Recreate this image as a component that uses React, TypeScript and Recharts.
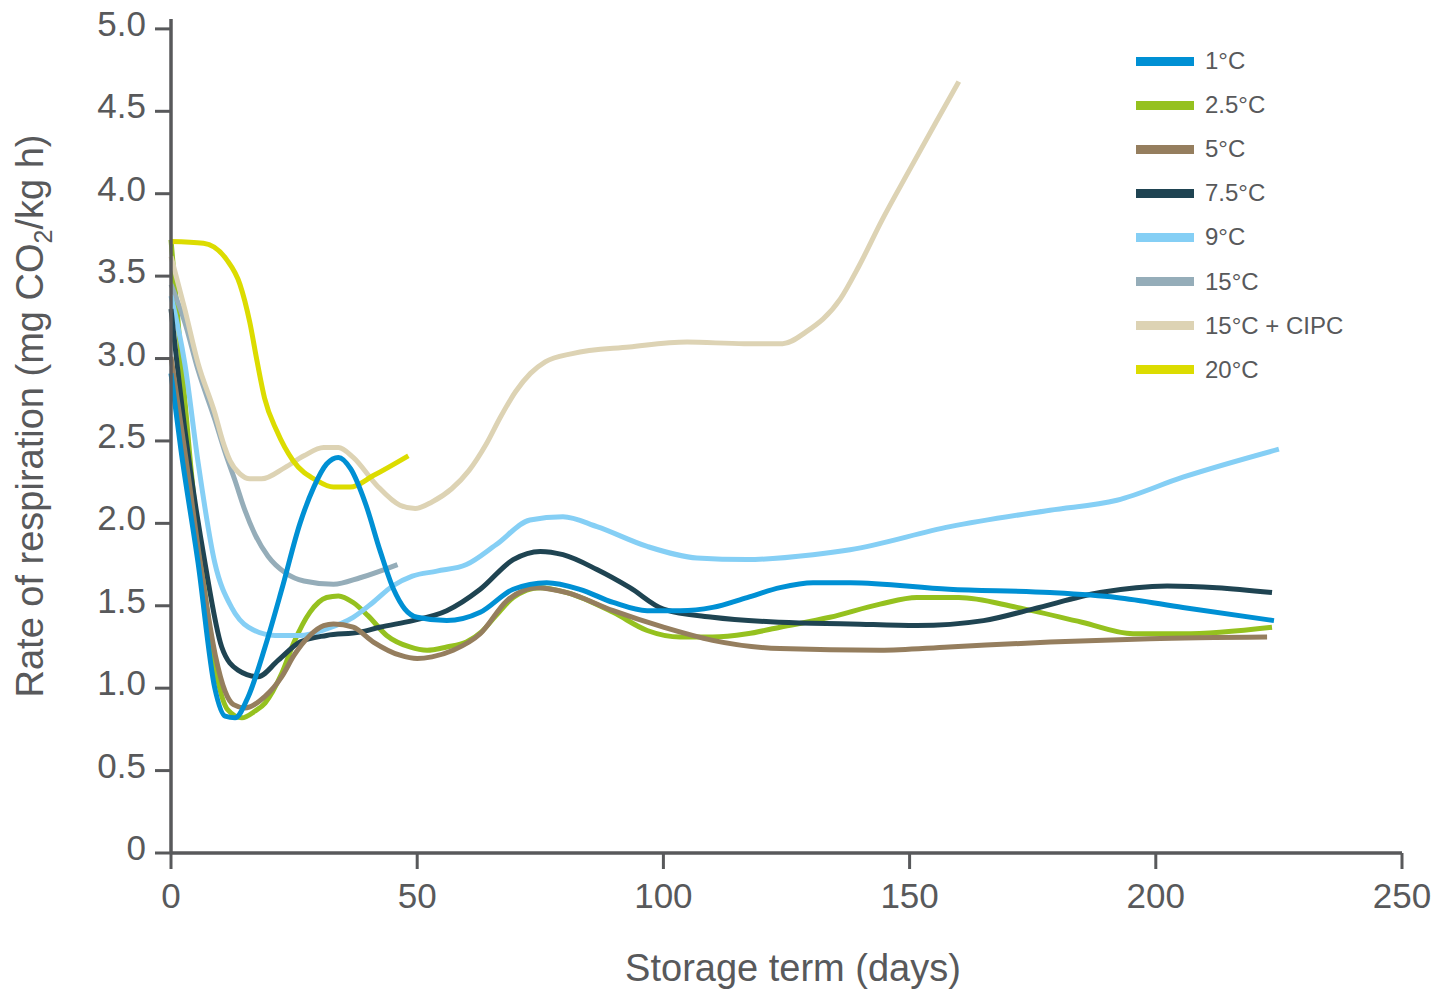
import { LineChart, Line, XAxis, YAxis, Legend } from "recharts"

// storage day / respiration rate (mg CO2/kg h)
const days1 = [0, 2, 5.5, 8.9, 11, 13, 15.7, 19.1, 22.5, 26.2, 29, 31.6, 34, 36.5, 39.5, 42.5, 45.2, 47.5, 50, 56, 62.8, 69.5, 76.3, 83, 89.8, 96.7, 103.4, 110, 117, 123.7, 130.4, 138, 158, 178.5, 192, 205.5, 224]
const rate1 = [2.91, 2.45, 1.76, 1.0, 0.83, 0.82, 0.95, 1.25, 1.6, 2.0, 2.22, 2.36, 2.4, 2.33, 2.12, 1.83, 1.6, 1.48, 1.43, 1.41, 1.46, 1.6, 1.64, 1.6, 1.52, 1.47, 1.47, 1.49, 1.55, 1.61, 1.64, 1.64, 1.6, 1.58, 1.55, 1.49, 1.41]

const days25 = [0, 1.5, 4, 7, 9.5, 11.5, 14.4, 17, 19.1, 22.5, 25, 28.2, 31.6, 34, 37, 40, 43.8, 48.5, 52, 56, 60, 63, 66, 69.5, 75, 80.4, 89.8, 96.7, 103.4, 110, 117, 123.7, 133.8, 144, 151.5, 160, 171.8, 185, 195.4, 205.5, 223.6]
const rate25 = [3.72, 3.2, 2.35, 1.55, 1.05, 0.87, 0.82, 0.86, 0.91, 1.09, 1.28, 1.46, 1.55, 1.56, 1.52, 1.44, 1.32, 1.25, 1.23, 1.25, 1.28, 1.34, 1.44, 1.55, 1.61, 1.58, 1.46, 1.35, 1.31, 1.31, 1.33, 1.37, 1.43, 1.51, 1.55, 1.55, 1.49, 1.4, 1.33, 1.33, 1.37]

const days5 = [0, 3, 6, 9, 11, 12.7, 15, 19.1, 22.5, 25, 28.2, 31, 33, 37, 41.1, 46.5, 50, 53, 57.3, 62.8, 68.2, 74.3, 80.4, 89.8, 100, 110, 123.7, 144, 158, 178.5, 198.8, 222.6]
const rate5 = [3.01, 2.4, 1.75, 1.2, 0.98, 0.9, 0.88, 0.95, 1.07, 1.2, 1.32, 1.38, 1.39, 1.37, 1.28, 1.2, 1.18, 1.19, 1.23, 1.33, 1.53, 1.61, 1.58, 1.47, 1.37, 1.29, 1.24, 1.23, 1.25, 1.28, 1.3, 1.31]

const days75 = [0, 2.8, 6.9, 10.3, 13.6, 17.7, 21.8, 26.2, 31.6, 38.4, 42.4, 49.1, 56, 62.8, 69.5, 75, 79.6, 86.5, 93.2, 100, 110, 123.7, 138, 151.5, 165, 175, 188.7, 202.3, 212.4, 223.6]
const rate75 = [3.3, 2.57, 1.76, 1.25, 1.11, 1.07, 1.17, 1.28, 1.32, 1.34, 1.37, 1.41, 1.47, 1.6, 1.78, 1.83, 1.81, 1.72, 1.61, 1.48, 1.43, 1.4, 1.39, 1.38, 1.41, 1.48, 1.58, 1.62, 1.61, 1.58]

const days9 = [0, 2.8, 5.5, 8.9, 12.3, 15.7, 21.1, 26.2, 31.6, 37, 41, 45, 49, 54, 60, 66, 72.9, 79.6, 86.5, 96.7, 106.8, 117, 130.4, 137.9, 158.2, 178.5, 192.1, 205.5, 225]
const rate9 = [3.38, 2.97, 2.37, 1.76, 1.49, 1.37, 1.32, 1.32, 1.36, 1.43, 1.52, 1.62, 1.68, 1.71, 1.75, 1.87, 2.02, 2.04, 1.98, 1.86, 1.79, 1.78, 1.81, 1.84, 1.98, 2.08, 2.14, 2.28, 2.45]

const days15 = [0, 2.8, 5.5, 8.9, 11, 13, 15, 17.1, 19.7, 23.2, 27, 33, 38.4, 46]
const rate15 = [3.45, 3.22, 2.93, 2.63, 2.43, 2.26, 2.08, 1.93, 1.8, 1.7, 1.65, 1.63, 1.67, 1.75]

const daysCipc = [0, 2.8, 5.5, 8.9, 10.5, 12, 14, 16, 18.4, 23.2, 27, 31, 34, 37, 41.8, 46.5, 49.6, 53, 57, 60.5, 64, 67, 70, 73, 76, 81.5, 93.1, 104.8, 116.4, 124.2, 128.9, 135.9, 139.7, 144.4, 149.9, 155.3, 160]
const rateCipc = [3.62, 3.3, 2.97, 2.67, 2.5, 2.38, 2.3, 2.27, 2.27, 2.34, 2.41, 2.46, 2.46, 2.4, 2.23, 2.11, 2.09, 2.13, 2.21, 2.32, 2.48, 2.65, 2.8, 2.91, 2.98, 3.03, 3.07, 3.1, 3.09, 3.09, 3.16, 3.36, 3.56, 3.84, 4.14, 4.43, 4.68]

const days20 = [0, 6.6, 11.3, 14, 16, 17.5, 19, 21.5, 24.8, 29.6, 33, 36.4, 41.1, 48.2]
const rate20 = [3.71, 3.7, 3.6, 3.45, 3.22, 2.98, 2.76, 2.56, 2.38, 2.26, 2.22, 2.22, 2.29, 2.41]

const xTicks = [0, 50, 100, 150, 200, 250]
const yTicks = [0, 0.5, 1, 1.5, 2, 2.5, 3, 3.5, 4, 4.5, 5]

const toPoints = (days: number[], rate: number[]) => days.map((d, i) => ({ d, v: rate[i] }))

const series = [
  { key: "t1", name: "1°C", color: "#0090d4", data: toPoints(days1, rate1) },
  { key: "t25", name: "2.5°C", color: "#95c11f", data: toPoints(days25, rate25) },
  { key: "t5", name: "5°C", color: "#957e5e", data: toPoints(days5, rate5) },
  { key: "t75", name: "7.5°C", color: "#1f4452", data: toPoints(days75, rate75) },
  { key: "t9", name: "9°C", color: "#85cff5", data: toPoints(days9, rate9) },
  { key: "t15", name: "15°C", color: "#95adb9", data: toPoints(days15, rate15) },
  { key: "cipc", name: "15°C + CIPC", color: "#ddd3b4", data: toPoints(daysCipc, rateCipc) },
  { key: "t20", name: "20°C", color: "#dcdc00", data: toPoints(days20, rate20) },
]

// paint order: 2.5°C underneath (its start hides in the bundle), 1°C on top
const drawOrder = ["t25", "t15", "cipc", "t20", "t9", "t75", "t5", "t1"]

const ink = "#58595b"
const font = '"Liberation Sans", Arial, Helvetica, sans-serif'

const YTick = ({ x, y, payload }: any) => (
  <text x={x} y={y + 7} textAnchor="end" fill={ink} fontSize={35} fontFamily={font}>
    {payload.value === 0 ? "0" : payload.value.toFixed(1)}
  </text>
)

const XTick = ({ x, y, payload }: any) => (
  <text x={x} y={y + 39} textAnchor="middle" fill={ink} fontSize={35} fontFamily={font}>
    {payload.value}
  </text>
)

const XTitle = () => (
  <text x={793} y={981} textAnchor="middle" fill={ink} fontSize={38} fontFamily={font}>
    Storage term (days)
  </text>
)

const YTitle = () => (
  <text
    x={43}
    y={416}
    transform="rotate(-90, 43, 416)"
    textAnchor="middle"
    fill={ink}
    fontSize={38}
    fontFamily={font}
  >
    Rate of respiration (mg CO
    <tspan dy={9} fontSize={25}>2</tspan>
    <tspan dy={-9}>/kg h)</tspan>
  </text>
)

const SeriesLegend = () => (
  <div style={{ fontFamily: font }}>
    {series.map((s) => (
      <div key={s.key} style={{ display: "flex", alignItems: "center", height: 44.1 }}>
        <div style={{ width: 58, height: 9, background: s.color }} />
        <span style={{ marginLeft: 11, fontSize: 24, color: ink, lineHeight: 1 }}>{s.name}</span>
      </div>
    ))}
  </div>
)

export default function App() {
  return (
    <div style={{ position: "absolute", left: 0, top: 0, background: "#fff" }}>
      <LineChart width={1439} height={989} margin={{ top: 19, right: 37, left: 0, bottom: 0 }}>
        <XAxis
          type="number"
          dataKey="d"
          domain={[0, 250]}
          ticks={xTicks}
          height={136}
          stroke={ink}
          strokeWidth={3.5}
          tickSize={16}
          tickMargin={0}
          tick={<XTick />}
          tickLine={{ stroke: ink, strokeWidth: 3 }}
          label={XTitle}
        />
        <YAxis
          type="number"
          domain={[0, 5.06]}
          ticks={yTicks}
          width={171}
          stroke={ink}
          strokeWidth={3.5}
          tickSize={16}
          tickMargin={9}
          tick={<YTick />}
          tickLine={{ stroke: ink, strokeWidth: 3 }}
          label={YTitle}
        />
        <Legend
          layout="horizontal"
          align="center"
          verticalAlign="middle"
          content={SeriesLegend}
          wrapperStyle={{ left: 1136, top: 39, width: 260, height: 360 }}
        />
        {drawOrder.map((k) => {
          const s = series.find((x) => x.key === k)!
          return (
            <Line
              key={s.key}
              data={s.data}
              dataKey="v"
              name={s.name}
              type="monotone"
              stroke={s.color}
              strokeWidth={5}
              dot={false}
              activeDot={false}
              isAnimationActive={false}
            />
          )
        })}
      </LineChart>
    </div>
  )
}
